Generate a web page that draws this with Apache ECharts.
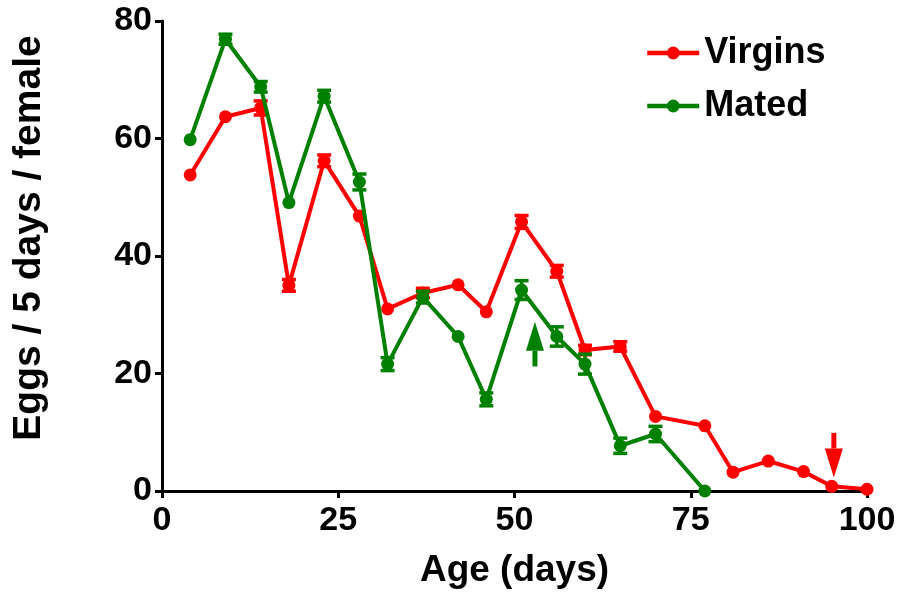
<!DOCTYPE html>
<html>
<head>
<meta charset="utf-8">
<script src="https://cdn.jsdelivr.net/npm/echarts@6/dist/echarts.min.js"></script>
<style>
html,body{margin:0;padding:0;background:#fff;}
#c{width:899px;height:596px;}
</style>
</head>
<body>
<div id="c"></div>
<script>
var daysVirgins = [4,9,14,18,23,28,32,37,42,46,51,56,60,65,70,77,81,86,91,95,100];
var virgins     = [53.8,63.7,65.2,35.0,56.2,46.8,31.0,33.7,35.1,30.5,45.8,37.4,24.0,24.6,12.7,11.1,3.2,5.1,3.3,0.8,0.3];
var virginsSem  = [0,0,1.2,1.0,1.0,0,0,0.8,0,0,1.1,1.0,0.8,0.8,0,0,0,0,0,0,0];

var daysMated = [4,9,14,18,23,28,32,37,42,46,51,56,60,65,70,77];
var mated     = [59.8,76.9,68.8,49.1,67.2,52.6,21.6,33.0,26.3,15.6,34.2,26.3,21.6,7.7,9.7,0.0];
var matedSem  = [0,0.85,0.9,0,1.0,1.35,1.1,1.0,0,1.1,1.6,1.65,1.7,1.3,1.3,0];

// arrows: [x, tail y, tip y]
var matedArrow   = [52.9, 21.2, 28.8];
var virginsArrow = [95.3, 9.9, 2.3];

var xTicks = [0,25,50,75,100];
var yTicks = [0,20,40,60,80];

var RED = '#ff0000', GREEN = '#008000';
var FONT = '"Liberation Sans", Arial, sans-serif';

function zip(xs, ys){ return xs.map(function(x,i){ return [x, ys[i]]; }); }
function zipErr(xs, ys, es){ return xs.map(function(x,i){ return [x, ys[i], es[i]]; }); }

function errRender(color){
  return function(params, api){
    var e = api.value(2);
    if (!e) return null;
    var x = api.value(0), y = api.value(1);
    var top = api.coord([x, y + e]);
    var bot = api.coord([x, y - e]);
    var hw = 7;
    var st = {stroke: color, lineWidth: 3.5};
    return {type:'group', children:[
      {type:'line', shape:{x1:top[0], y1:top[1], x2:bot[0], y2:bot[1]}, style: st},
      {type:'line', shape:{x1:top[0]-hw, y1:top[1], x2:top[0]+hw, y2:top[1]}, style: st},
      {type:'line', shape:{x1:bot[0]-hw, y1:bot[1], x2:bot[0]+hw, y2:bot[1]}, style: st}
    ]};
  };
}

function arrowRender(color){
  return function(params, api){
    var x = api.value(0);
    var tail = api.coord([x, api.value(1)]);
    var tip = api.coord([x, api.value(2)]);
    var dir = tip[1] < tail[1] ? 1 : -1; // 1: pointing up
    var headH = 29, headW = 9;
    var baseY = tip[1] + dir * headH;
    return {type:'group', children:[
      {type:'line', shape:{x1:tail[0], y1:tail[1], x2:tail[0], y2:baseY}, style:{stroke:color, lineWidth:5}},
      {type:'polygon', shape:{points:[[tip[0], tip[1]], [tip[0]-headW, baseY], [tip[0]+headW, baseY]]}, style:{fill:color}}
    ]};
  };
}

var chart = echarts.init(document.getElementById('c'), null, {renderer:'canvas'});
chart.setOption({
  animation: false,
  backgroundColor: '#fff',
  grid: {left:162, right:32, top:21, bottom:105, containLabel:false},
  legend: {
    data: ['Virgins','Mated'],
    orient: 'vertical',
    left: 640, top: 30,
    itemWidth: 52, itemHeight: 16, itemGap: 17,
    lineStyle: {width: 4.5},
    textStyle: {fontFamily: FONT, fontWeight:'bold', fontSize:36, color:'#000'}
  },
  xAxis: {
    type:'value', min:0, max:100, interval:25,
    name:'Age (days)', nameLocation:'middle', nameGap:61,
    nameTextStyle:{fontFamily:FONT, fontWeight:'bold', fontSize:37, color:'#000'},
    axisLine:{show:true, onZero:false, lineStyle:{color:'#000', width:3}},
    axisTick:{show:true, length:7, lineStyle:{color:'#000', width:3}},
    axisLabel:{margin:13, fontFamily:FONT, fontWeight:'bold', fontSize:34, color:'#000',
      customValues: xTicks},
    splitLine:{show:false}
  },
  yAxis: {
    type:'value', min:0, max:80, interval:20,
    name:'Eggs / 5 days / female', nameLocation:'middle', nameGap:113, nameRotate:90,
    nameTextStyle:{fontFamily:FONT, fontWeight:'bold', fontSize:39, color:'#000', padding:[0,0,0,36]},
    axisLine:{show:true, onZero:false, lineStyle:{color:'#000', width:3}},
    axisTick:{show:true, length:7, lineStyle:{color:'#000', width:3}},
    axisLabel:{margin:10, fontFamily:FONT, fontWeight:'bold', fontSize:34, color:'#000'},
    splitLine:{show:false}
  },
  series: [
    {type:'custom', name:'virginsErr', data: zipErr(daysVirgins, virgins, virginsSem),
     renderItem: errRender(RED), encode:{x:0, y:1}, z:2, silent:true},
    {type:'custom', name:'matedErr', data: zipErr(daysMated, mated, matedSem),
     renderItem: errRender(GREEN), encode:{x:0, y:1}, z:4, silent:true},
    {type:'line', name:'Virgins', data: zip(daysVirgins, virgins), color: RED,
     symbol:'circle', symbolSize:13, lineStyle:{width:4, color:RED}, itemStyle:{color:RED}, z:3},
    {type:'line', name:'Mated', data: zip(daysMated, mated), color: GREEN,
     symbol:'circle', symbolSize:13, lineStyle:{width:4, color:GREEN}, itemStyle:{color:GREEN}, z:5},
    {type:'custom', name:'matedArrow', data:[matedArrow], renderItem: arrowRender(GREEN),
     encode:{x:0, y:[1,2]}, z:6, silent:true},
    {type:'custom', name:'virginsArrow', data:[virginsArrow], renderItem: arrowRender(RED),
     encode:{x:0, y:[1,2]}, z:6, silent:true}
  ]
});
</script>
</body>
</html>
